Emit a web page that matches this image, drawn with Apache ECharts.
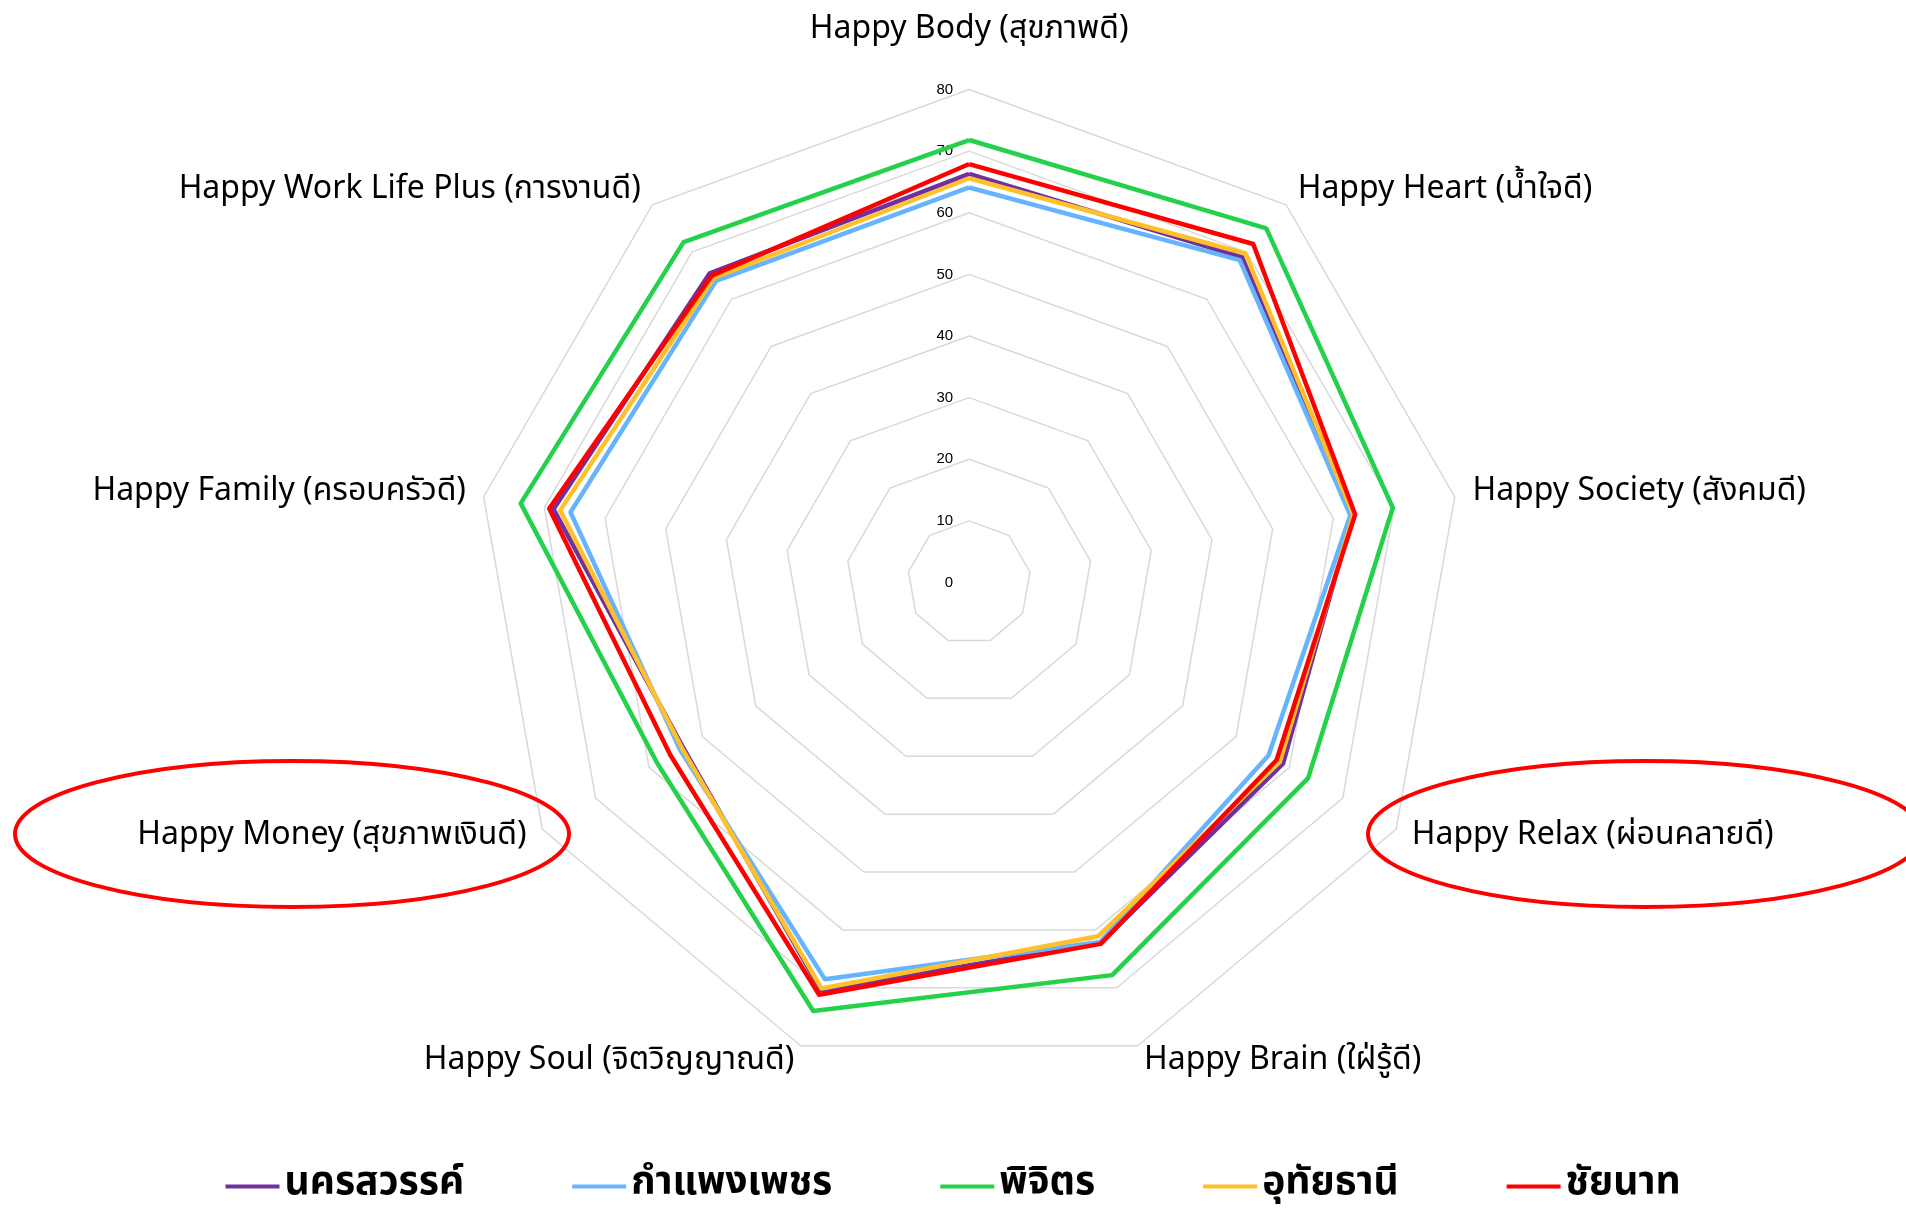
<!DOCTYPE html>
<html>
<head>
<meta charset="utf-8">
<title>Happy 8 radar</title>
<script src="https://cdn.jsdelivr.net/npm/echarts@6/dist/echarts.min.js"></script>
<style>
  html, body { margin: 0; padding: 0; background: #fff; }
  #main { width: 1906px; height: 1211px; }
</style>
</head>
<body>
<div id="main"></div>
<script>
// axes in clockwise order, starting at the top
const axisNames = [
    "Happy Body (สุขภาพดี)",
    "Happy Heart (น้ำใจดี)",
    "Happy Society (สังคมดี)",
    "Happy Relax (ผ่อนคลายดี)",
    "Happy Brain (ใฝ่รู้ดี)",
    "Happy Soul (จิตวิญญาณดี)",
    "Happy Money (สุขภาพเงินดี)",
    "Happy Family (ครอบครัวดี)",
    "Happy Work Life Plus (การงานดี)",
];
const provinces = ["นครสวรรค์", "กำแพงเพชร", "พิจิตร", "อุทัยธานี", "ชัยนาท"];
const nakhonSawan = [66.3, 68.9, 63.2, 58.8, 62.3, 70.4, 53.6, 68.5, 65.5];
const kamphaengPhet = [64.1, 68.3, 62.8, 56.1, 62.1, 68.5, 54.2, 65.7, 63.9];
const phichit = [71.8, 75.0, 69.8, 63.5, 67.8, 74.0, 58.5, 73.9, 72.1];
const uthaiThani = [65.6, 69.7, 63.3, 58.2, 61.1, 70.1, 53.8, 67.4, 64.5];
const chainat = [67.9, 71.7, 63.6, 57.6, 62.4, 71.2, 56.0, 69.2, 65.0];
const axisMax = 80;
const colors = ["#7030a0", "#66b3ff", "#23d14b", "#ffc02a", "#ff0000"];

const font = "'Noto Sans Thai', 'Noto Sans', 'DejaVu Sans', sans-serif";

// echarts radar goes counter-clockwise, so reorder
const order = [0, 8, 7, 6, 5, 4, 3, 2, 1];
const reorder = (arr) => order.map((i) => arr[i]);

let dom = document.getElementById("main");
let myChart = echarts.init(dom, null, { renderer: "canvas" });

const allValues = [nakhonSawan, kamphaengPhet, phichit, uthaiThani, chainat];

let option = {
    animation: false,
    color: colors,
    legend: {
        bottom: 0,
        left: "center",
        itemGap: 108,
        itemWidth: 54,
        itemHeight: 14,
        icon: "path://M0,5 L54,5 L54,9 L0,9 Z",
        textStyle: {
            fontFamily: font,
            fontSize: 39,
            fontWeight: "bold",
            color: "#000",
        },
        data: provinces,
    },
    radar: {
        center: ["50.85%", "48.1%"],
        radius: 493,
        shape: "polygon",
        splitNumber: 8,
        nameGap: 18,
        axisName: {
            color: "#000",
            fontFamily: font,
            fontSize: 32,
            formatter: (name) => (name === axisNames[0] ? "{top|" + name + "}" : name),
            rich: {
                top: { fontFamily: font, fontSize: 32, color: "#000", padding: [0, 0, 24, 0] },
            },
        },
        axisLine: { show: false },
        axisTick: { show: false },
        splitArea: { show: false },
        splitLine: { lineStyle: { color: "#d9d9d9", width: 1.5 } },
        indicator: reorder(axisNames).map((n, i) => ({
            name: n,
            min: 0,
            max: axisMax,
            axisLabel: i === 0
                ? { show: true, color: "#000", fontSize: 15, fontFamily: "Arial, sans-serif", margin: 16 }
                : { show: false },
        })),
    },
    graphic: [
        {
            type: "ellipse",
            shape: { cx: 292, cy: 834, rx: 277, ry: 73 },
            style: { fill: "none", stroke: "#ff0000", lineWidth: 4 },
            z: 100,
        },
        {
            type: "ellipse",
            shape: { cx: 1645, cy: 834, rx: 277, ry: 73 },
            style: { fill: "none", stroke: "#ff0000", lineWidth: 4 },
            z: 100,
        },
    ],
    series: [
        {
            type: "radar",
            symbol: "none",
            lineStyle: { width: 4.5 },
            data: provinces.map((p, i) => ({
                name: p,
                value: reorder(allValues[i]),
                lineStyle: { color: colors[i], width: 4.5 },
                itemStyle: { color: colors[i] },
            })),
        },
    ],
};

if (option && typeof option === "object") {
    myChart.setOption(option);
}

window.addEventListener("resize", myChart.resize);
</script>
</body>
</html>
